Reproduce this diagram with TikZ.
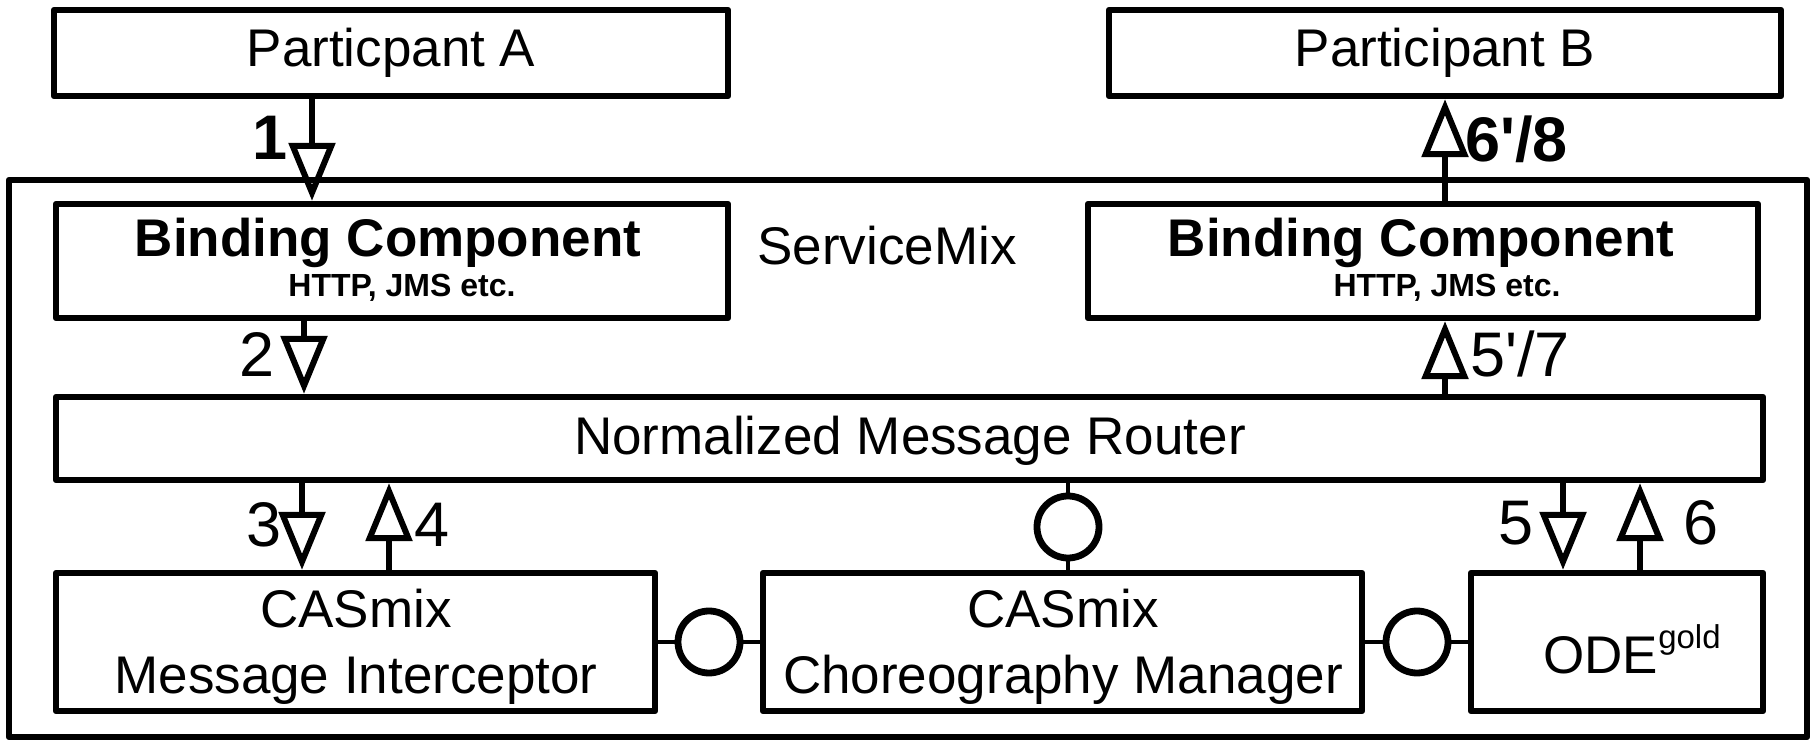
\documentclass[tikz,border=0pt]{standalone}
\usepackage{fontspec}
\setmainfont{Liberation Sans}
\usetikzlibrary{arrows.meta,calc}
\begin{document}
\begin{tikzpicture}[x=0.5pt,y=-0.5pt,
  box/.style={draw, line width=3.2pt, line join=round, inner sep=0pt},
  ball/.style={draw, circle, line width=3.4pt, minimum size=31pt, inner sep=0pt, fill=white},
  link/.style={line width=2pt},
  flow/.style={line width=3pt, -{Triangle[open, length=29pt, width=23pt]}},
  txt/.style={anchor=base, inner sep=0pt, font=\fontsize{26.5}{30}\selectfont},
  btxt/.style={anchor=base, inner sep=0pt, font=\fontsize{26.5}{30}\selectfont\bfseries},
  small/.style={anchor=base, inner sep=0pt, font=\fontsize{16}{18}\selectfont\bfseries},
  num/.style={anchor=base, inner sep=0pt, font=\fontsize{31.5}{36}\selectfont},
  bnum/.style={anchor=base, inner sep=0pt, font=\fontsize{31.5}{36}\selectfont\bfseries}]
\useasboundingbox (0,0) rectangle (1820,742);
\fill[white] (0,0) rectangle (1820,742);

% boxes
\node[box, minimum width=337pt, minimum height=43pt] (pa) at (391,53) {};
\node[box, minimum width=336pt, minimum height=43pt] (pb) at (1445,53) {};
\node[box, minimum width=899pt, minimum height=278.5pt] (sm) at (908,458.5) {};
\node[box, minimum width=336pt, minimum height=57pt] (bcl) at (392,261) {};
\node[box, minimum width=335pt, minimum height=57pt] (bcr) at (1423,261) {};
\node[box, minimum width=853.5pt, minimum height=41.5pt] (router) at (909.5,438.5) {};
\node[box, minimum width=299.5pt, minimum height=69pt] (mi) at (355.5,642) {};
\node[box, minimum width=299.5pt, minimum height=69pt] (cm) at (1062.5,642) {};
\node[box, minimum width=146pt, minimum height=69pt] (ode) at (1617,642) {};

% texts
\node[txt] (tpa) at (391,67) {Particpant A};
\node[txt] (tpb) at (1445,67) {Participant B};
\node[btxt] (tbcl) at (388,257) {Binding Component};
\node[small] (sbcl) at (402,297) {HTTP, JMS etc.};
\node[btxt] (tbcr) at (1421,257) {Binding Component};
\node[small] (sbcr) at (1447,297) {HTTP, JMS etc.};
\node[txt] (tsm) at (887,265) {ServiceMix};
\node[txt] (trouter) at (910,455) {Normalized Message Router};
\node[txt] (tmi1) at (356,627) {CASmix};
\node[txt] (tmi2) at (356,693) {Message Interceptor};
\node[txt] (tcm1) at (1063,627) {CASmix};
\node[txt] (tcm2) at (1063,693) {Choreography Manager};
\node[txt] (tode) at (1632,673) {ODE\raisebox{12.5pt}{\fontsize{16.5}{18}\selectfont gold}};

% ball connectors
\node[ball] (b1) at (709,642) {};
\node[ball] (b2) at (1068,527) {};
\node[ball] (b3) at (1417,642) {};
\draw[link] (mi) -- (b1);
\draw[link] (b1) -- (cm);
\draw[link] (cm) -- (b3);
\draw[link] (b3) -- (ode);
\draw[link] (b2) -- (b2 |- router.south);
\draw[link] (b2) -- (b2 |- cm.north);

% arrow columns
\coordinate (x1) at (312,0);
\coordinate (x2) at (304,0);
\coordinate (x3) at (302,0);
\coordinate (x4) at (389,0);
\coordinate (x5) at (1563,0);
\coordinate (x6) at (1640,0);
\coordinate (x7) at (1445,0);

\draw[flow] (pa.south -| x1) -- (bcl.north -| x1);
\draw[flow] (bcl.south -| x2) -- (router.north -| x2);
\draw[flow] (router.south -| x3) -- (mi.north -| x3);
\draw[flow] (mi.north -| x4) -- (router.south -| x4);
\draw[flow] (router.south -| x5) -- (ode.north -| x5);
\draw[flow] (ode.north -| x6) -- (router.south -| x6);
\draw[flow] (router.north -| x7) -- (bcr.south -| x7);
\draw[flow] (bcr.north -| x7) -- (pb.south -| x7);

% labels
\node[bnum] (l1) at (270,160) {1};
\node[num] (l2) at (257,377) {2};
\node[num] (l3) at (264,547) {3};
\node[num] (l4) at (432,547) {4};
\node[num] (l5) at (1516,545) {5};
\node[num] (l6) at (1701,545) {6};
\node[num, anchor=base west] (l57) at (1470,377) {5\textquotesingle/7};
\node[bnum, anchor=base west] (l68) at (1465,162) {6\textquotesingle/8};
\end{tikzpicture}
\end{document}
